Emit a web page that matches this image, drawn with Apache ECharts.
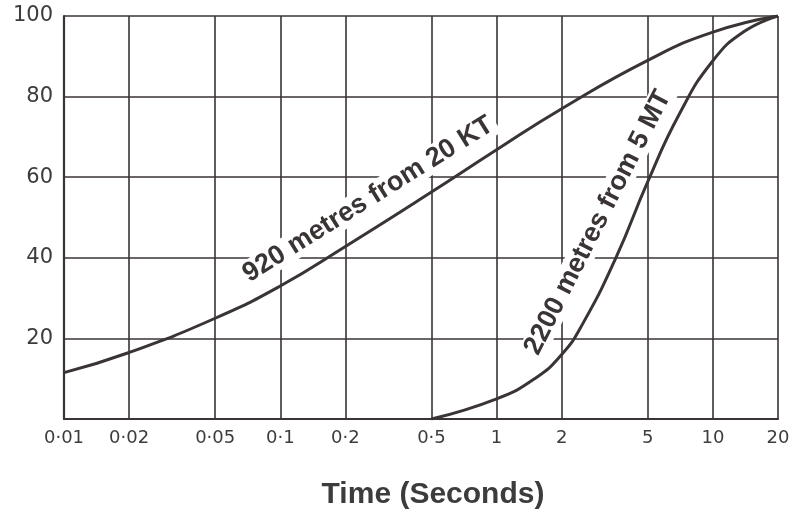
<!DOCTYPE html>
<html>
<head>
<meta charset="utf-8">
<script src="https://cdn.jsdelivr.net/npm/echarts@6/dist/echarts.min.js"></script>
<style>
html,body{margin:0;padding:0;background:#fff;}
#chart{width:794px;height:515px;}
</style>
</head>
<body>
<div id="chart"></div>
<script>
// Tick values and labels
const xTicks = [0.01, 0.02, 0.05, 0.1, 0.2, 0.5, 1, 2, 5, 10, 20];
const xTickLabels = ['0·01', '0·02', '0·05', '0·1', '0·2', '0·5', '1', '2', '5', '10', '20'];
const yTicks = [20, 40, 60, 80, 100];

// 920 metres from 20 KT
const kt20Time = [0.01, 0.02, 0.05, 0.1, 0.2, 0.5, 1, 2, 5, 10, 20];
const kt20Pct  = [11.5, 16.5, 25, 33, 42.8, 56.3, 66.8, 77, 89, 96, 100];

// 2200 metres from 5 MT
const mt5Time = [0.5, 1, 1.5, 2, 2.5, 3.56, 5, 7, 10, 14, 20];
const mt5Pct  = [0, 5, 10, 16, 23.6, 40, 58.9, 75.7, 88.9, 96.2, 100];

const label1 = '920 metres from 20 KT';
const label2 = '2200 metres from 5 MT';
const xName = 'Time (Seconds)';

const ink = '#3a3434';
const pair = (xs, ys) => xs.map((x, i) => [x, ys[i]]);

const curveLabel = (text, coord, rot) => ({
  z: 1,
  silent: true,
  symbol: 'circle',
  symbolSize: 0,
  data: [{ coord: coord, value: 0 }],
  label: {
    show: true,
    position: 'inside',
    formatter: text,
    rotate: rot,
    color: ink,
    fontFamily: 'Liberation Sans',
    fontWeight: 'bold',
    fontSize: 27,
    backgroundColor: '#fff',
    padding: [0, 4]
  }
});

const chart = echarts.init(document.getElementById('chart'), null, { renderer: 'canvas' });
chart.setOption({
  animation: false,
  backgroundColor: '#fff',
  grid: { left: 64, right: 16, top: 16, bottom: 95, containLabel: false },
  xAxis: {
    type: 'log',
    logBase: 10,
    min: 0.01,
    max: 20,
    name: xName,
    nameLocation: 'middle',
    nameGap: 61,
    nameTextStyle: {
      color: '#3c3c3c', fontFamily: 'Liberation Sans', fontWeight: 'bold', fontSize: 30,
      padding: [0, 0, 0, 24]
    },
    axisLine: { show: true, lineStyle: { color: ink, width: 2.2 } },
    axisTick: { show: false, customValues: xTicks },
    axisLabel: {
      customValues: xTicks,
      margin: 10,
      color: '#3c3c3c',
      fontFamily: 'DejaVu Sans',
      fontSize: 18,
      hideOverlap: false,
      formatter: v => {
        let idx = xTicks.findIndex(t => Math.abs(t - v) / t < 1e-6);
        return idx >= 0 ? xTickLabels[idx] : '';
      }
    },
    splitLine: { show: true, lineStyle: { color: ink, width: 1.6 } }
  },
  yAxis: {
    type: 'value',
    min: 0,
    max: 100,
    interval: 20,
    axisLine: { show: true, lineStyle: { color: ink, width: 2.2 } },
    axisTick: { show: false },
    axisLabel: {
      margin: 11,
      color: '#3c3c3c',
      fontFamily: 'DejaVu Sans',
      fontSize: 21,
      formatter: v => (yTicks.indexOf(v) >= 0 ? String(v) : '')
    },
    splitLine: { show: true, lineStyle: { color: ink, width: 1.6 } }
  },
  series: [
    {
      type: 'line',
      name: label1,
      data: pair(kt20Time, kt20Pct),
      smooth: 0.5,
      showSymbol: false,
      z: 3,
      lineStyle: { color: ink, width: 3 },
      markPoint: curveLabel(label1, [0.255, 54.5], 32)
    },
    {
      type: 'line',
      name: label2,
      data: pair(mt5Time, mt5Pct),
      smooth: 0.5,
      showSymbol: false,
      z: 3,
      lineStyle: { color: ink, width: 3 },
      markPoint: curveLabel(label2, [2.94, 48.75], 63)
    }
  ]
});
</script>
</body>
</html>
